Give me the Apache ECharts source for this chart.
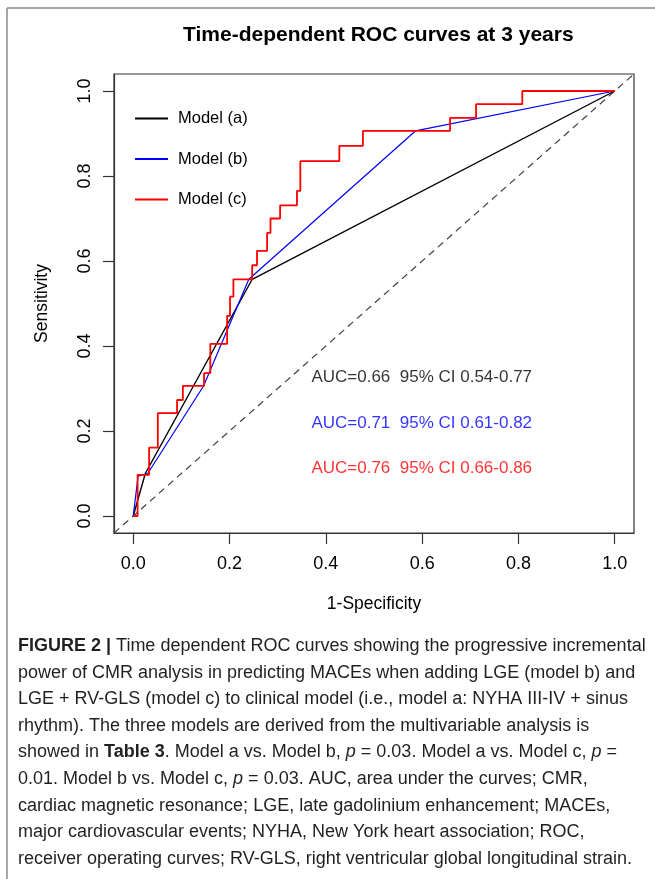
<!DOCTYPE html>
<html>
<head>
<meta charset="utf-8">
<script src="https://cdn.jsdelivr.net/npm/echarts@6/dist/echarts.min.js"></script>
<style>
  html, body { margin: 0; padding: 0; background: #fff; }
  #chartDiv { width: 655px; height: 879px; }
</style>
</head>
<body>
<div id="chartDiv"></div>
<script>
// ROC points (x = 1-specificity, y = sensitivity)
var fprA = [0, 0.025, 0.247, 1];
var tprA = [0, 0.100, 0.557, 1];

var fprB = [0, 0.010, 0.030, 0.146, 0.240, 0.586, 1];
var tprB = [0, 0.094, 0.100, 0.306, 0.557, 0.906, 1];

var fprC = [0, 0.009, 0.033, 0.051, 0.091, 0.103, 0.147, 0.160, 0.195, 0.201, 0.208, 0.247,
            0.257, 0.278, 0.285, 0.305, 0.340, 0.347, 0.428, 0.477, 0.658, 0.712, 0.808, 1];
var tprC = [0, 0.097, 0.161, 0.242, 0.273, 0.306, 0.336, 0.405, 0.471, 0.516, 0.557, 0.590,
            0.624, 0.666, 0.700, 0.731, 0.765, 0.835, 0.871, 0.906, 0.937, 0.969, 1.000, 1];

var diagX = [-0.04, 1.04];

var modelNames = ['Model (a)', 'Model (b)', 'Model (c)'];
var modelColors = ['#000000', '#0000ff', '#ff0000'];
var aucTexts = ['AUC=0.66  95% CI 0.54-0.77', 'AUC=0.71  95% CI 0.61-0.82', 'AUC=0.76  95% CI 0.66-0.86'];
var aucX = [0.37, 0.37, 0.37];
var aucY = [0.327, 0.219, 0.113];

var tickValues = [0, 0.2, 0.4, 0.6, 0.8, 1.0];

var captionLines = [
    '{b|FIGURE 2 |} Time dependent ROC curves showing the progressive incremental',
    'power of CMR analysis in predicting MACEs when adding LGE (model b) and',
    'LGE + RV-GLS (model c) to clinical model (i.e., model a: NYHA III-IV + sinus',
    'rhythm). The three models are derived from the multivariable analysis is',
    'showed in {b|Table 3}. Model a vs. Model b, {i|p} = 0.03. Model a vs. Model c, {i|p} =',
    '0.01. Model b vs. Model c, {i|p} = 0.03. AUC, area under the curves; CMR,',
    'cardiac magnetic resonance; LGE, late gadolinium enhancement; MACEs,',
    'major cardiovascular events; NYHA, New York heart association; ROC,',
    'receiver operating curves; RV-GLS, right ventricular global longitudinal strain.'
];

function pairs(xs, ys) {
    var out = [];
    for (var i = 0; i < xs.length; i++) out.push([xs[i], ys[i]]);
    return out;
}

var FONT = 'Liberation Sans';
var CAP = 18;
var chartDiv = echarts.init(document.getElementById('chartDiv'));

// caption below the plot
var captionGraphics = captionLines.map(function (line, i) {
    return {
        type: 'text',
        left: 18,
        top: 637 + i * 26.6,
        style: {
            text: line,
            font: CAP + 'px "' + FONT + '"',
            fill: '#231f20',
            rich: {
                b: { fontWeight: 'bold', fontSize: CAP, fontFamily: FONT, fill: '#231f20' },
                i: { fontStyle: 'italic', fontSize: CAP, fontFamily: FONT, fill: '#231f20' }
            }
        }
    };
});

var option = {
    animation: false,
    backgroundColor: '#ffffff',
    title: {
        text: 'Time-dependent ROC curves at 3 years',
        left: 178,
        top: 20,
        textStyle: { fontFamily: FONT, fontSize: 21, fontWeight: 'bold', color: '#000' }
    },
    legend: {
        orient: 'vertical',
        left: 130,
        top: 105,
        itemWidth: 33,
        itemHeight: 2,
        itemGap: 23.5,
        icon: 'rect',
        data: modelNames,
        textStyle: { fontFamily: FONT, fontSize: 16.5, color: '#000', padding: [0, 0, 0, 5] }
    },
    grid: {
        left: 114, top: 74, width: 520, height: 459,
        show: true, borderColor: '#333', borderWidth: 1.2, backgroundColor: 'transparent'
    },
    xAxis: {
        type: 'value', min: -0.04, max: 1.04,
        name: '1-Specificity', nameLocation: 'middle', nameGap: 62,
        nameTextStyle: { fontFamily: FONT, fontSize: 17.5, color: '#000' },
        axisLine: { show: true, onZero: false, lineStyle: { color: '#333', width: 1.2 } },
        axisTick: { show: true, inside: false, length: 11, customValues: tickValues, lineStyle: { color: '#333', width: 1.2 } },
        axisLabel: {
            customValues: tickValues, margin: 22,
            fontFamily: FONT, fontSize: 18, color: '#000',
            formatter: function (v) { return v.toFixed(1); }
        },
        splitLine: { show: false }
    },
    yAxis: {
        type: 'value', min: -0.04, max: 1.04,
        name: 'Sensitivity', nameLocation: 'middle', nameGap: 63,
        nameTextStyle: { fontFamily: FONT, fontSize: 17.5, color: '#000' },
        axisLine: { show: true, onZero: false, lineStyle: { color: '#333', width: 1.2 } },
        axisTick: { show: true, inside: false, length: 11, customValues: tickValues, lineStyle: { color: '#333', width: 1.2 } },
        axisLabel: {
            customValues: tickValues, margin: 20, rotate: 90,
            fontFamily: FONT, fontSize: 18, color: '#000',
            formatter: function (v) { return v.toFixed(1); }
        },
        splitLine: { show: false }
    },
    graphic: [
        { type: 'line', shape: { x1: 7, y1: 8, x2: 655, y2: 8 }, style: { stroke: '#8a8a8a', lineWidth: 1.5 } },
        { type: 'line', shape: { x1: 7, y1: 8, x2: 7, y2: 879 }, style: { stroke: '#8a8a8a', lineWidth: 1.5 } }
    ].concat(captionGraphics),
    series: [
        {
            name: 'diagonal', type: 'line', symbol: 'none', silent: true,
            data: pairs(diagX, diagX),
            lineStyle: { color: '#444', width: 1.2, type: [7, 5] }
        },
        {
            name: modelNames[0], type: 'line', symbol: 'none',
            data: pairs(fprA, tprA),
            itemStyle: { color: modelColors[0] },
            lineStyle: { color: modelColors[0], width: 1.4 }
        },
        {
            name: modelNames[1], type: 'line', symbol: 'none',
            data: pairs(fprB, tprB),
            itemStyle: { color: modelColors[1] },
            lineStyle: { color: modelColors[1], width: 1.2 }
        },
        {
            name: modelNames[2], type: 'line', symbol: 'none', step: 'end',
            data: pairs(fprC, tprC),
            itemStyle: { color: modelColors[2] },
            lineStyle: { color: modelColors[2], width: 1.8 }
        },
        {
            name: 'auc', type: 'scatter', symbolSize: 0, silent: true,
            data: aucTexts.map(function (t, i) {
                return { value: [aucX[i], aucY[i]], name: t, label: { color: modelColors[i] } };
            }),
            label: {
                show: true, position: 'right', distance: 0,
                fontFamily: FONT, fontSize: 17,
                formatter: function (p) { return p.name; }
            }
        }
    ]
};

chartDiv.setOption(option);
</script>
</body>
</html>
